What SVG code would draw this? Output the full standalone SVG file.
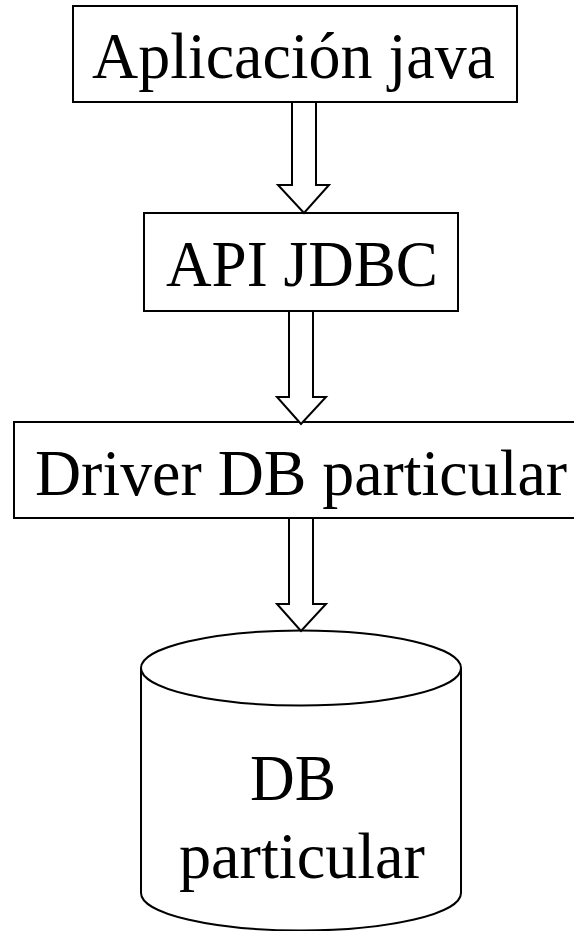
<svg xmlns="http://www.w3.org/2000/svg" width="574" height="931" viewBox="0 0 574 931">
<style>
.box{fill:#fff;stroke:#000;stroke-width:2}
.arr{fill:#fff;stroke:#000;stroke-width:2;stroke-linejoin:miter}
.lbl{font-family:"Liberation Serif","Times New Roman",serif;font-size:66px;fill:#000}
</style>
<rect width="574" height="931" fill="#fff"/>
<g id="node-app">
<rect class="box" x="73" y="6" width="444" height="96"/>
<text class="lbl" x="92" y="78" textLength="403" lengthAdjust="spacingAndGlyphs">Aplicación java</text>
</g>
<g id="node-api">
<rect class="box" x="144" y="213" width="314" height="98"/>
<text class="lbl" x="166" y="286" textLength="272" lengthAdjust="spacingAndGlyphs">API JDBC</text>
</g>
<g id="node-driver">
<rect class="box" x="14" y="422" width="572" height="96"/>
<text class="lbl" x="35" y="495" textLength="532" lengthAdjust="spacingAndGlyphs">Driver DB particular</text>
</g>
<g id="node-db">
<path class="box" d="M141,668 L141,893 A160,37.5 0 0 0 461,893 L461,668"/>
<ellipse class="box" cx="301" cy="668" rx="160" ry="37.5"/>
<text class="lbl" x="250" y="800" textLength="86" lengthAdjust="spacingAndGlyphs">DB</text>
<text class="lbl" x="179" y="878" textLength="246" lengthAdjust="spacingAndGlyphs">particular</text>
</g>
<g id="connectors">
<polygon class="arr" points="292,102 316,102 316,185 329,185 304,213 278,185 292,185"/>
<polygon class="arr" points="289,311 313,311 313,397 326,397 301,424 277,397 289,397"/>
<polygon class="arr" points="289,518 313,518 313,604 326,604 301,631 277,604 289,604"/>
</g>
</svg>
